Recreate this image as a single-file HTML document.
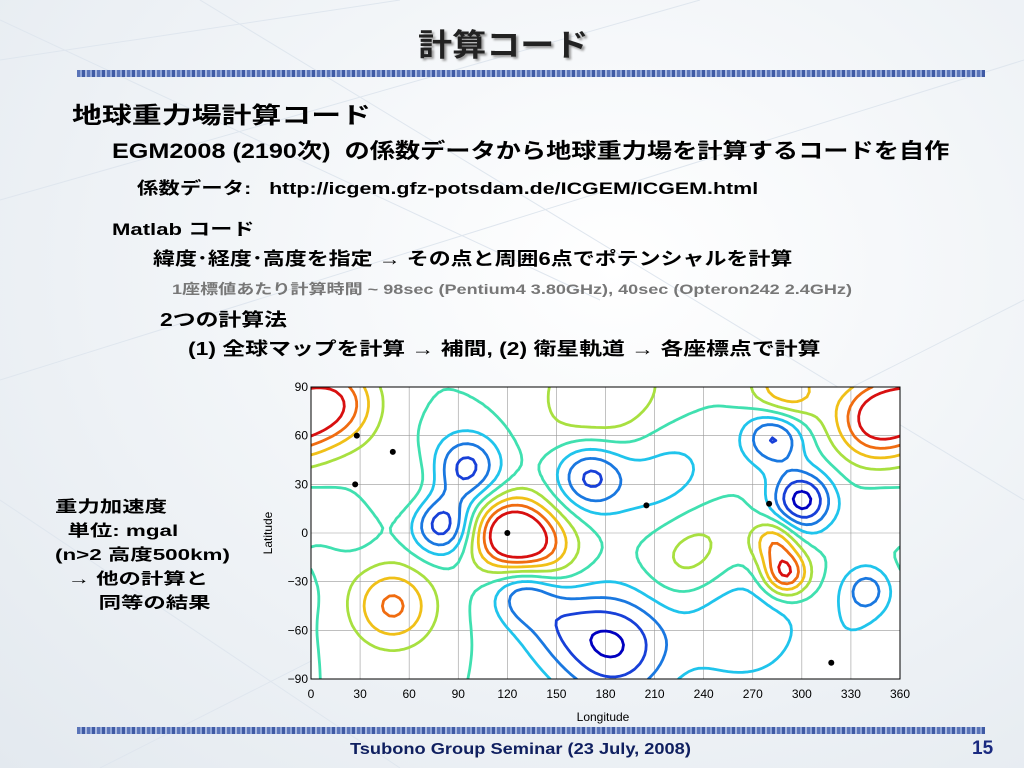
<!DOCTYPE html>
<html><head><meta charset="utf-8">
<style>
html,body{margin:0;padding:0;}
body{width:1024px;height:768px;position:relative;overflow:hidden;
background:radial-gradient(ellipse at 60% 35%,#ffffff 0%,#f2f5f8 45%,#e3e9ef 100%);
font-family:"Liberation Sans","Noto Sans CJK JP",sans-serif;font-weight:bold;color:#000;}
.t{position:absolute;white-space:nowrap;transform-origin:0 0;}
.bar{position:absolute;left:77px;width:908px;height:7px;
background:repeating-linear-gradient(90deg,#5a74b8 0 3px,#8ea4d6 3px 5px,#3f5aa4 5px 8px,#a8b8e0 8px 10px);}
</style></head><body>
<svg style="position:absolute;left:0;top:0" width="1024" height="768">
<g stroke="#dfe6ee" stroke-width="1" fill="none">
<path d="M0 60 L400 0 M0 200 L700 0 M0 380 L1024 60 M100 768 L1024 300 M0 20 L600 300 M200 0 L1024 500 M0 500 L400 768"/>
</g></svg>
<div class="t" style="left:418px;top:20px;font-size:31px;color:#222;text-shadow:2px 2px 2px #999;transform:scaleX(1.1);">計算コード</div>
<div class="bar" style="top:70px"></div>
<div class="t" style="left:72px;top:96px;font-size:23px;transform:scaleX(1.3);">地球重力場計算コード</div>
<div class="t" style="left:112px;top:135px;font-size:21px;transform:scaleX(1.2);">EGM2008 (2190次)&nbsp; の係数データから地球重力場を計算するコードを自作</div>
<div class="t" style="left:137px;top:174px;font-size:17px;transform:scaleX(1.26);">係数データ:&nbsp;&nbsp; http://icgem.gfz-potsdam.de/ICGEM/ICGEM.html</div>
<div class="t" style="left:112px;top:215px;font-size:17px;transform:scaleX(1.3);">Matlab コード</div>
<div class="t" style="left:153px;top:245px;font-size:18px;transform:scaleX(1.22);">緯度･経度･高度を指定 → その点と周囲6点でポテンシャルを計算</div>
<div class="t" style="left:172px;top:279px;font-size:14px;color:#777;transform:scaleX(1.29);">1座標値あたり計算時間 ~ 98sec (Pentium4 3.80GHz), 40sec (Opteron242 2.4GHz)</div>
<div class="t" style="left:160px;top:306px;font-size:18px;transform:scaleX(1.27);">2つの計算法</div>
<div class="t" style="left:188px;top:335px;font-size:18px;transform:scaleX(1.27);">(1) 全球マップを計算 → 補間, (2) 衛星軌道 → 各座標点で計算</div>
<div class="t" style="left:55px;top:496px;font-size:16px;line-height:24px;transform:scaleX(1.4);">重力加速度<br>&nbsp;&nbsp;単位: mgal<br>(n&gt;2 高度500km)<br>&nbsp;&nbsp;→ 他の計算と<br>&nbsp;&nbsp;&nbsp;&nbsp;&nbsp;&nbsp;&nbsp;同等の結果</div>

<svg id="chart" style="position:absolute;left:0;top:0" width="1024" height="768"></svg>

<div class="bar" style="top:727px"></div>
<div class="t" style="left:350px;top:741px;font-size:16px;color:#102060;transform:scaleX(1.14);">Tsubono Group Seminar (23 July, 2008)</div>
<div class="t" style="left:972px;top:738px;font-size:19px;color:#1a2a80;">15</div>

<script>
const anomLon=[120,138,80,95,170,215,300,283,290,283,345,15,290,50,185,130,340,180,230,270,20,60,150,250,240,350,10,330];
const anomLat=[0,-10,5,40,35,35,20,60,-25,-5,70,80,88,-45,-70,-35,-35,82,-20,-60,0,30,-55,-50,5,10,-10,-60];
const anomAmp=[22,16,-18,-17,-17,-9,-22,-17,22,14,22,18,15,16,-20,-15,-12,10,7,-6,-4,5,-8,-5,4,-3,3,-4];
const anomSig=[16,18,13,15,15,25,13,13,10,10,18,18,15,18,24,14,11,30,20,25,14,16,18,25,20,15,15,15];
const levels=[-20,-15,-10,-5,0,5,10,15,20];
const levelColors=["#0000c0","#1840d8","#1a78e0","#20c4ec","#40e0b0","#a8e040","#f0c018","#f06c10","#d81010"];
const xTicks=[0,30,60,90,120,150,180,210,240,270,300,330,360];
const yTicks=[90,60,30,0,-30,-60,-90];
const dots=[[28,60],[50,50],[27,30],[205,17],[280,18],[318,-80],[120,0]];

const svg=document.getElementById('chart');
const NS='http://www.w3.org/2000/svg';
const X0=311,X1=900,Y0=387,Y1=679;
const sx=l=>X0+(l/360)*(X1-X0);
const sy=l=>Y0+((90-l)/180)*(Y1-Y0);
function mk(tag,attrs,parent){const e=document.createElementNS(NS,tag);for(const k in attrs)e.setAttribute(k,attrs[k]);(parent||svg).appendChild(e);return e;}

const bg=mk('rect',{x:X0,y:Y0,width:X1-X0,height:Y1-Y0,fill:'#fff'});


const defs=mk('defs',{});
const cp=mk('clipPath',{id:'clip'},defs);
mk('rect',{x:X0,y:Y0,width:X1-X0,height:Y1-Y0},cp);

xTicks.forEach(v=>{
 const g=mk('line',{x1:sx(v),x2:sx(v),y1:Y0,y2:Y1,stroke:'#999','stroke-width':0.6});
 
 
 const t=mk('text',{x:sx(v),y:Y1+19,'text-anchor':'middle','font-size':12,'font-family':'Liberation Sans, sans-serif','font-weight':'normal'});
 t.textContent=v;
 
 
});
yTicks.forEach(v=>{
 const g=mk('line',{x1:X0,x2:X1,y1:sy(v),y2:sy(v),stroke:'#999','stroke-width':0.6});
 
 
 const t=mk('text',{x:X0-3,y:sy(v)+4,'text-anchor':'end','font-size':12,'font-family':'Liberation Sans, sans-serif','font-weight':'normal'});
 t.textContent=(v<0?'\u2212'+(-v):v);
 
 
});

function field(lon,lat){
 let s=0;
 for(let i=0;i<anomLon.length;i++){
  let d=Math.abs(lon-anomLon[i]);if(d>180)d=360-d;
  const dl=lat-anomLat[i];
  s+=anomAmp[i]*Math.exp(-(d*d+dl*dl)/(2*anomSig[i]*anomSig[i]));
 }
 return s;
}
const step=3,NX=360/step,NY=180/step;
const F=[];
for(let j=0;j<=NY;j++){F[j]=[];for(let i=0;i<=NX;i++)F[j][i]=field(i*step,90-j*step);}
const cg=mk('g',{'clip-path':'url(#clip)'});


levels.forEach((L,li)=>{
 let d='';
 for(let j=0;j<NY;j++)for(let i=0;i<NX;i++){
  const a=F[j][i],b=F[j][i+1],c=F[j+1][i+1],e=F[j+1][i];
  const lon0=i*step,lat0=90-j*step;
  const pts=[];
  const edge=(v1,v2,p1,p2)=>{if((v1<L)!==(v2<L)){const t=(L-v1)/(v2-v1);pts.push([p1[0]+t*(p2[0]-p1[0]),p1[1]+t*(p2[1]-p1[1])]);}};
  edge(a,b,[lon0,lat0],[lon0+step,lat0]);
  edge(b,c,[lon0+step,lat0],[lon0+step,lat0-step]);
  edge(c,e,[lon0+step,lat0-step],[lon0,lat0-step]);
  edge(e,a,[lon0,lat0-step],[lon0,lat0]);
  for(let k=0;k+1<pts.length;k+=2)d+='M'+sx(pts[k][0]).toFixed(1)+' '+sy(pts[k][1]).toFixed(1)+'L'+sx(pts[k+1][0]).toFixed(1)+' '+sy(pts[k+1][1]).toFixed(1);
 }
 const p=mk('path',{d:d,stroke:levelColors[li],'stroke-width':2.8,fill:'none','stroke-linecap':'round'},cg);
 
 
});
dots.forEach(dd=>{
 const c=mk('circle',{cx:sx(dd[0]),cy:sy(dd[1]),r:3,fill:'#000'});
 
 
});
const fr=mk('rect',{x:X0,y:Y0,width:X1-X0,height:Y1-Y0,fill:'none',stroke:'#000','stroke-width':1});


const xl=mk('text',{x:603,y:721,'text-anchor':'middle','font-size':12,'font-family':'Liberation Sans, sans-serif','font-weight':'normal'});
xl.textContent='Longitude';


const yl=mk('text',{x:272,y:533,'text-anchor':'middle','font-size':12,'font-family':'Liberation Sans, sans-serif','font-weight':'normal',transform:'rotate(-90 272 533)'});
yl.textContent='Latitude';


</script>
</body></html>
